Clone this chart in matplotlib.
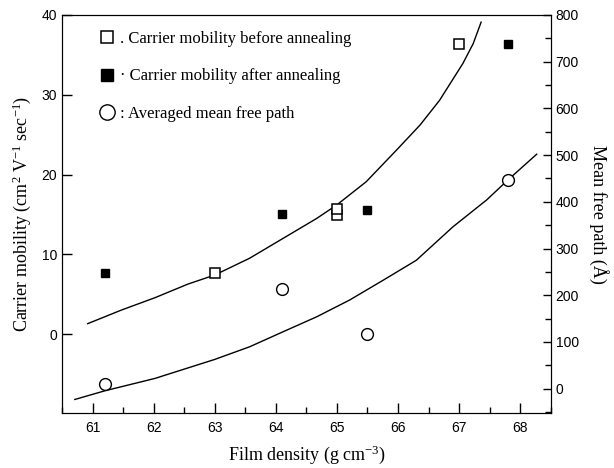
import matplotlib
matplotlib.use("Agg")
import matplotlib.pyplot as plt
from matplotlib.ticker import MultipleLocator

# data
dens_before = [6.30, 6.50, 6.50, 6.70]
mob_before = [7.7, 14.9, 15.7, 36.4]

dens_after = [6.12, 6.41, 6.55, 6.78]
mob_after = [7.6, 15.1, 15.5, 36.4]

dens_mfp = [6.12, 6.41, 6.55, 6.78]
mfp = [11, 213, 118, 447]

# fitted curves as drawn in the figure
fit_mob_x = [6.092, 6.147, 6.202, 6.256, 6.30, 6.357, 6.412, 6.467, 6.50, 6.548,
             6.598, 6.636, 6.668, 6.706, 6.723, 6.736]
fit_mob_y = [1.3, 3.0, 4.55, 6.26, 7.4, 9.5, 12.0, 14.5, 16.2, 19.1,
             23.1, 26.2, 29.3, 33.9, 36.4, 39.1]

fit_mfp_x = [6.071, 6.12, 6.202, 6.30, 6.357, 6.412, 6.467, 6.521, 6.576, 6.63,
             6.69, 6.745, 6.78, 6.827]
fit_mfp_y = [-23, -4.5, 22, 62.7, 89.7, 122, 154, 190, 232.5, 275,
             346.7, 404, 447, 502]

xticks = [6.1, 6.2, 6.3, 6.4, 6.5, 6.6, 6.7, 6.8]
xticklabels = ['61', '62', '63', '64', '65', '66', '67', '68']

serif = 'Liberation Serif'
sans = 'Liberation Sans'
plt.rcParams['mathtext.fontset'] = 'custom'
plt.rcParams['mathtext.rm'] = serif

fig = plt.figure(figsize=(6.14, 4.68), dpi=100)
ax = fig.add_axes([0.101, 0.1175, 0.796, 0.8505])
ax2 = ax.twinx()

ax.plot(fit_mob_x, fit_mob_y, color='black', lw=1.0)
h1, = ax.plot(dens_before, mob_before, ls='none', marker='s', ms=7,
              mfc='white', mec='black', mew=1.1)
h2, = ax.plot(dens_after, mob_after, ls='none', marker='s', ms=5.5,
              mfc='black', mec='black')
ax2.plot(fit_mfp_x, fit_mfp_y, color='black', lw=1.0)
h3, = ax2.plot(dens_mfp, mfp, ls='none', marker='o', ms=8.5,
               mfc='white', mec='black', mew=1.0)

ax.set_xlim(6.05, 6.85)
ax.set_ylim(-9.9, 40)
ax2.set_ylim(-52, 800)

ax.set_xticks(xticks)
ax.set_xticklabels(xticklabels, family=sans, fontsize=10)
ax.xaxis.set_minor_locator(MultipleLocator(0.05))
ax.set_yticks([0, 10, 20, 30, 40])
for lab in ax.get_yticklabels():
    lab.set_family(sans)
    lab.set_fontsize(10)
ax2.set_yticks([0, 100, 200, 300, 400, 500, 600, 700, 800])
ax2.yaxis.set_minor_locator(MultipleLocator(50))
for lab in ax2.get_yticklabels():
    lab.set_family(sans)
    lab.set_fontsize(10)

ax.tick_params(axis='x', which='major', direction='in', length=7, width=1, pad=6)
ax.tick_params(axis='x', which='minor', direction='in', length=4, width=1)
ax.tick_params(axis='y', which='major', direction='in', length=7, width=1)
ax2.tick_params(axis='y', which='major', direction='in', length=6, width=1)
ax2.tick_params(axis='y', which='minor', direction='in', length=4, width=1)

ax.set_xlabel(r'Film density (g cm$\mathregular{^{-3}}$)', family=serif,
              fontsize=13, labelpad=6)
ax.set_ylabel(r'Carrier mobility (cm$\mathregular{^{2}}$ V$\mathregular{^{-1}}$ sec$\mathregular{^{-1}}$)',
              family=serif, fontsize=13, labelpad=6)
ax2.set_ylabel('Mean free path (\u00c5)', family=serif, fontsize=13,
               rotation=270, va='center', ha='center')
ax2.yaxis.set_label_coords(1.098, 0.5)

# legend marker sizes differ a bit from the data markers
leg = ax.legend([h1, h2, h3],
                ['. Carrier mobility before annealing',
                 '\u00b7 Carrier mobility after annealing',
                 ': Averaged mean free path'],
                loc='upper left', bbox_to_anchor=(0.065, 0.977), frameon=False,
                prop={'family': serif, 'size': 12}, labelspacing=1.3,
                handlelength=0.8, handletextpad=0.35, markerscale=1.3,
                borderaxespad=0)
leg.legend_handles[1].set_markersize(9)

fig.savefig('out.png', dpi=100)
